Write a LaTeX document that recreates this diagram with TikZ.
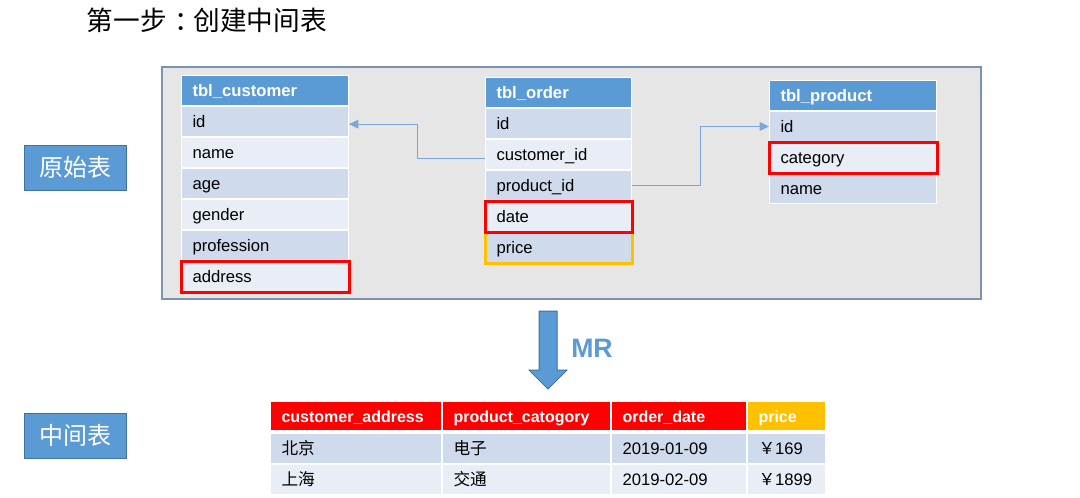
\documentclass[tikz,border=0pt]{standalone}
\usepackage{fontspec}
\setmainfont{Liberation Sans}
\newfontfamily\cjk{Noto Sans CJK SC}
\usetikzlibrary{arrows.meta, positioning}
\definecolor{hdblue}{HTML}{5B9BD5}
\definecolor{rowdk}{HTML}{CFDAEC}
\definecolor{rowlt}{HTML}{E9EDF6}
\definecolor{edgeblue}{HTML}{41719C}
\definecolor{framebg}{HTML}{E7E6E6}
\definecolor{frameln}{HTML}{7A93B3}
\definecolor{hired}{HTML}{FF0000}
\definecolor{hiorange}{HTML}{FFC000}
\definecolor{linkblue}{HTML}{7AA6D8}
\tikzset{
  cell/.style    = {draw=white, line width=0.75pt, minimum height=22.5pt, inner xsep=8.25pt, inner ysep=0pt,
                    text height=10.5pt, text depth=1.2pt, align=left, font=\fontsize{12.5}{14}\selectfont},
  wide/.style    = {cell, text width=108.75pt},
  narrow/.style  = {cell, text width=93pt},
  hd/.style      = {fill=hdblue, text=white, font=\bfseries\fontsize{12.5}{14}\selectfont},
  dk/.style      = {fill=rowdk},
  lt/.style      = {fill=rowlt},
  bcell/.style   = {cell, font=\fontsize{12.5}{14}\selectfont},
  bhd/.style     = {text=white, minimum height=21.75pt, font=\bfseries\fontsize{12}{14}\selectfont},
  hibox/.style   = {draw=hired, line width=2.25pt},
  hiprice/.style = {draw=hiorange, line width=2.25pt},
  link/.style    = {-{Triangle[length=7pt, width=6.5pt]}, draw=linkblue, line width=0.75pt},
  tag/.style     = {fill=hdblue, draw=edgeblue, line width=0.75pt, text=white, minimum width=76.5pt,
                    minimum height=33.75pt, font=\cjk\fontsize{18}{20}\selectfont},
  frame/.style   = {fill=framebg, draw=frameln, line width=1.1pt},
  bigarrow/.style= {fill=hdblue, draw=edgeblue, line width=0.75pt}
}

\begin{document}
\begin{tikzpicture}[x=0.75pt, y=-0.75pt]
\useasboundingbox (0,0) rectangle (1080,497);
%% ===== title and side tags =====
\node[font=\cjk\fontsize{20}{24}\selectfont, anchor=west] (title) at (82,20)
  {第一步\hspace{0.3em}：\hspace{-0.3em}创建中间表};
\node[tag] (src) at (75,167.5) {原始表};
\node[tag] (mid) at (75,435.5) {中间表};
%% ===== source tables =====
\draw[frame] (162,67) rectangle (981,299);
% tbl_customer
\node[wide, hd, anchor=north west] (c0) at (181,75) {tbl\_customer};
\node[wide, dk, below=0pt of c0] (c1) {id};
\node[wide, lt, below=0pt of c1] (c2) {name};
\node[wide, dk, below=0pt of c2] (c3) {age};
\node[wide, lt, below=0pt of c3] (c4) {gender};
\node[wide, dk, below=0pt of c4] (c5) {profession};
\node[wide, lt, below=0pt of c5] (c6) {address};
% tbl_order
\node[narrow, hd, anchor=north west] (o0) at (485,77) {tbl\_order};
\node[narrow, dk, below=0pt of o0] (o1) {id};
\node[narrow, lt, below=0pt of o1] (o2) {customer\_id};
\node[narrow, dk, below=0pt of o2] (o3) {product\_id};
\node[narrow, lt, below=0pt of o3] (o4) {date};
\node[narrow, dk, below=0pt of o4] (o5) {price};
% tbl_product
\node[wide, hd, anchor=north west] (p0) at (769,80) {tbl\_product};
\node[wide, dk, below=0pt of p0] (p1) {id};
\node[wide, lt, below=0pt of p1] (p2) {category};
\node[wide, dk, below=0pt of p2] (p3) {name};
% highlighted fields
\draw[hiprice] (o5.north west) rectangle (o5.south east);
\draw[hibox] (c6.north west) rectangle (c6.south east);
\draw[hibox] (o4.north west) rectangle (o4.south east);
\draw[hibox] (p2.north west) rectangle (p2.south east);
% keys
\draw[link] ([yshift=-3pt]o2.west) -- ++(-68,0) |- ([yshift=-2pt]c1.east);
\draw[link] (o3.east) -- ++(68,0) |- (p1.west);
%% ===== MR step =====
\draw[bigarrow] (539,311) -- (557,311) -- (557,370) -- (567,370) -- (548,389) -- (529,370) -- (539,370) -- cycle;
\node[font=\bfseries\fontsize{20}{24}\selectfont, text=hdblue, anchor=west, inner sep=0pt] (mr) at (571,348) {MR};
%% ===== result table =====
\node[bcell, bhd, fill=hired, text width=111.75pt, anchor=north west] (h1) at (270,401) {customer\_address};
\node[bcell, bhd, fill=hired, text width=109.5pt, right=0pt of h1] (h2) {product\_catogory};
\node[bcell, bhd, fill=hired, text width=84.75pt, right=0pt of h2] (h3) {order\_date};
\node[bcell, bhd, fill=hiorange, text width=42pt, right=0pt of h3] (h4) {price};
\node[bcell, dk, text width=111.75pt, below=1.5pt of h1] (a1) {\cjk 北京};
\node[bcell, dk, text width=109.5pt, right=0pt of a1] (a2) {\cjk 电子};
\node[bcell, dk, text width=84.75pt, right=0pt of a2] (a3) {2019-01-09};
\node[bcell, dk, text width=42pt, right=0pt of a3] (a4) {{\cjk ￥}169};
\node[bcell, lt, text width=111.75pt, below=0pt of a1] (b1) {\cjk 上海};
\node[bcell, lt, text width=109.5pt, right=0pt of b1] (b2) {\cjk 交通};
\node[bcell, lt, text width=84.75pt, right=0pt of b2] (b3) {2019-02-09};
\node[bcell, lt, text width=42pt, right=0pt of b3] (b4) {{\cjk ￥}1899};
\end{tikzpicture}
\end{document}
